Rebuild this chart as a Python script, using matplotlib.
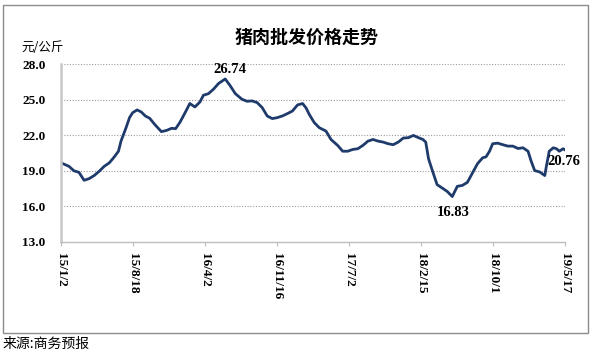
import pandas as pd
import matplotlib.pyplot as plt
from matplotlib.patches import Rectangle

# weekly-ish pork wholesale price readings (yuan / kg)
dates = ["2015-01-02", "2015-01-27", "2015-02-12", "2015-02-28", "2015-03-16", "2015-04-01",
         "2015-04-17", "2015-05-03", "2015-05-19", "2015-06-04", "2015-06-20", "2015-07-03",
         "2015-07-11", "2015-07-27", "2015-08-07", "2015-08-17", "2015-08-31", "2015-09-13",
         "2015-09-26", "2015-10-10", "2015-10-26", "2015-11-16", "2015-12-02", "2015-12-18",
         "2015-12-31", "2016-01-14", "2016-01-30", "2016-02-14", "2016-03-01", "2016-03-17",
         "2016-03-28", "2016-04-13", "2016-04-29", "2016-05-15", "2016-06-05", "2016-06-21",
         "2016-07-07", "2016-07-28", "2016-08-13", "2016-08-29", "2016-09-14", "2016-09-30",
         "2016-10-16", "2016-11-01", "2016-11-17", "2016-12-03", "2016-12-19", "2017-01-04",
         "2017-01-20", "2017-02-05", "2017-02-16", "2017-02-26", "2017-03-14", "2017-03-30",
         "2017-04-20", "2017-05-06", "2017-05-27", "2017-06-12", "2017-06-28", "2017-07-14",
         "2017-07-30", "2017-08-15", "2017-08-31", "2017-09-16", "2017-10-02", "2017-10-18",
         "2017-11-03", "2017-11-19", "2017-12-05", "2017-12-21", "2018-01-06", "2018-01-22",
         "2018-02-07", "2018-02-21", "2018-03-02", "2018-03-11", "2018-03-22", "2018-04-07",
         "2018-04-23", "2018-05-09", "2018-05-25", "2018-06-10", "2018-06-26", "2018-07-12",
         "2018-07-28", "2018-08-13", "2018-08-29", "2018-09-09", "2018-09-20", "2018-09-30",
         "2018-10-16", "2018-11-01", "2018-11-17", "2018-12-03", "2018-12-19", "2019-01-04",
         "2019-01-20", "2019-01-30", "2019-02-10", "2019-02-26", "2019-03-14", "2019-03-19",
         "2019-03-28", "2019-04-10", "2019-04-20", "2019-04-29", "2019-05-11", "2019-05-17"]
prices = [19.67, 19.38, 19.0, 18.87, 18.2, 18.34,
          18.6, 18.96, 19.38, 19.67, 20.18, 20.65,
          21.5, 22.63, 23.48, 23.9, 24.13, 23.96,
          23.62, 23.42, 22.9, 22.3, 22.4, 22.58,
          22.55, 23.1, 23.9, 24.67, 24.38, 24.8,
          25.37, 25.5, 25.88, 26.36, 26.74, 26.16,
          25.5, 25.03, 24.86, 24.89, 24.75, 24.33,
          23.62, 23.4, 23.48, 23.62, 23.82, 24.04,
          24.55, 24.67, 24.3, 23.76, 23.06, 22.63,
          22.35, 21.64, 21.14, 20.65, 20.65, 20.8,
          20.86, 21.14, 21.5, 21.64, 21.5, 21.42,
          21.28, 21.2, 21.42, 21.76, 21.79, 21.98,
          21.79, 21.64, 21.42, 20.0, 19.1, 17.83,
          17.55, 17.26, 16.83, 17.69, 17.77, 18.03,
          18.82, 19.6, 20.09, 20.18, 20.65, 21.28,
          21.33, 21.2, 21.08, 21.08, 20.88, 20.94,
          20.65, 19.8, 19.02, 18.9, 18.6, 19.38,
          20.65, 20.94, 20.86, 20.65, 20.86, 20.76]

tick_dates = ["2015-01-02", "2015-08-18", "2016-04-02", "2016-11-16",
              "2017-07-02", "2018-02-15", "2018-10-01", "2019-05-17"]
tick_labels = ["15/1/2", "15/8/18", "16/4/2", "16/11/16",
               "17/7/2", "18/2/15", "18/10/1", "19/5/17"]
y_ticks = [13.0, 16.0, 19.0, 22.0, 25.0, 28.0]

cjk = ["Noto Sans CJK SC", "DejaVu Sans"]
num_font = "Liberation Serif"
line_color = "#1f3b6b"

x = pd.to_datetime(dates)
W, H = 593, 354
fig = plt.figure(figsize=(W / 100, H / 100), dpi=100)
ax = fig.add_axes([61 / W, 1 - 242 / H, 504 / W, 178 / H])

ax.plot(x, prices, color=line_color, linewidth=2.0, solid_joinstyle="round")

ax.set_xlim(pd.Timestamp(tick_dates[0]), pd.Timestamp(tick_dates[-1]))
ax.set_ylim(13, 28)
ax.set_yticks(y_ticks)
ax.set_yticklabels(["%.1f" % v for v in y_ticks], fontfamily=num_font,
                   fontweight="bold", fontsize=9.5)
ax.set_xticks(pd.to_datetime(tick_dates))
ax.set_xticklabels(tick_labels, rotation=-90, fontfamily=num_font,
                   fontweight="bold", fontsize=9.5, va="top", ha="center")

# dotted grid, no frame except the axis lines
for v in y_ticks[1:]:
    ax.axhline(v, color="#9a9a9a", linewidth=0.8, linestyle=(0, (1, 1.5)), zorder=0)
for s in ["top", "right"]:
    ax.spines[s].set_visible(False)
ax.spines["left"].set_color("#c8c8c8")
ax.spines["left"].set_linewidth(1.8)
ax.spines["bottom"].set_color("#bdbdbd")
ax.spines["bottom"].set_linewidth(1.0)
ax.tick_params(axis="y", length=0, pad=11)
ax.tick_params(axis="x", length=3, color="#bdbdbd", direction="out", pad=5)

# value labels: peak, trough, last
i_max = prices.index(max(prices))
i_min = prices.index(min(prices))
ax.annotate("%.2f" % prices[i_max], (x[i_max], prices[i_max]), xytext=(3, 2),
            textcoords="offset points", ha="center", va="bottom",
            fontfamily=num_font, fontweight="bold", fontsize=10.5)
ax.annotate("%.2f" % prices[i_min], (x[i_min], prices[i_min]), xytext=(1, -7),
            textcoords="offset points", ha="center", va="top",
            fontfamily=num_font, fontweight="bold", fontsize=10.5)
ax.annotate("%.2f" % prices[-1], (x[-1], prices[-1]), xytext=(-13, -8),
            textcoords="offset points", ha="left", va="center",
            fontfamily=num_font, fontweight="bold", fontsize=10.5, annotation_clip=False)

# titles and outer frame
fig.text(307 / W, 1 - 37.5 / H, "猪肉批发价格走势", ha="center", va="center",
         family=cjk, fontweight="bold", fontsize=13)
fig.text(43 / W, 1 - 47.5 / H, "元/公斤", ha="center", va="center",
         family=cjk, fontsize=9)
fig.text(3 / W, 1 - 344 / H, "来源:商务预报", ha="left", va="center",
         family=cjk, fontsize=10)
fig.patches.append(Rectangle((3 / W, 1 - 333 / H), 585 / W, 328 / H,
                             transform=fig.transFigure, fill=False,
                             edgecolor="#8c8c8c", linewidth=1.0))

fig.savefig("out.png", dpi=100)
